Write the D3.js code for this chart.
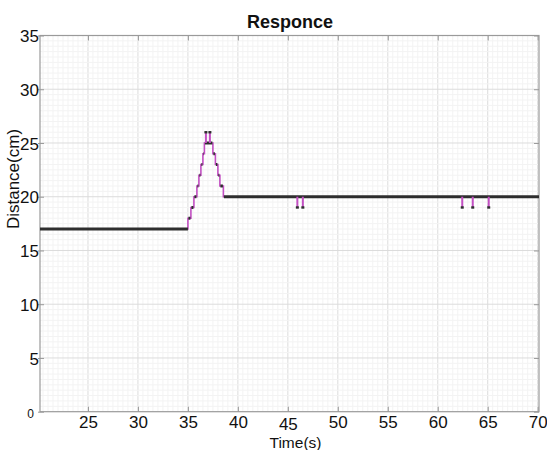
<!DOCTYPE html>
<html>
<head>
<meta charset="utf-8">
<script src="https://cdn.jsdelivr.net/npm/d3@7"></script>
<style>
  html, body { margin: 0; padding: 0; background: #fff; }
  svg { display: block; }
  text { font-family: "Liberation Sans", Arial, sans-serif; fill: #111; }
</style>
</head>
<body>
<svg id="chart" width="547" height="450"></svg>
<script>
// ---- data ----
const title = "Responce";
const xLabel = "Time(s)";
const yLabel = "Distance(cm)";
const xTicks = [25, 30, 35, 40, 45, 50, 55, 60, 65, 70];
const yTicks = [0, 5, 10, 15, 20, 25, 30, 35];
// step changes of the measured distance (time where each level starts)
const stepTimes  = [20.2, 35.0, 35.3, 35.6, 35.9, 36.1, 36.3, 36.5, 36.65, 37.5, 37.75, 38.0, 38.2, 38.55];
const stepValues = [17,   18,   19,   20,   21,   22,   23,   24,   25,    24,   23,    22,   21,   20];
const endTime = 70.13;
// single-sample glitches
const spikeTimes  = [36.8, 37.2, 45.95, 46.5, 62.45, 63.5, 65.1];
const spikeValues = [26,   26,   19,    19,   19,    19,   19];

// ---- layout ----
const svg = d3.select("#chart");
const L = 40, R = 539, T = 35.5, B = 411.7;
const x = d3.scaleLinear().domain([20.2, 70.13]).range([L, R]);
const y = d3.scaleLinear().domain([0, 35]).range([B, T]);

// grid
const grid = svg.append("g");
const minorX = d3.range(20.5, 70.1, 0.5);
const minorY = d3.range(0.5, 35, 0.5);
grid.selectAll(".mx").data(minorX).join("line")
  .attr("x1", d => x(d)).attr("x2", d => x(d)).attr("y1", T).attr("y2", B)
  .attr("stroke", d => (d % 5 === 0) ? "#dcdcdc" : "#f3f3f3").attr("stroke-width", 1);
grid.selectAll(".my").data(minorY).join("line")
  .attr("y1", d => y(d)).attr("y2", d => y(d)).attr("x1", L).attr("x2", R)
  .attr("stroke", d => (d % 5 === 0) ? "#dcdcdc" : "#f3f3f3").attr("stroke-width", 1);

// axes (inward ticks all round)
const axColor = "#9a9a9a";
const gB = svg.append("g").attr("transform", `translate(0,${B})`)
  .call(d3.axisBottom(x).tickValues(xTicks).tickSizeInner(-5).tickSizeOuter(0).tickPadding(0));
const gT = svg.append("g").attr("transform", `translate(0,${T})`)
  .call(d3.axisTop(x).tickValues(xTicks).tickSizeInner(-5).tickSizeOuter(0).tickFormat(""));
const gL = svg.append("g").attr("transform", `translate(${L},0)`)
  .call(d3.axisLeft(y).tickValues(yTicks).tickSizeInner(-4).tickSizeOuter(0).tickPadding(0));
const gR = svg.append("g").attr("transform", `translate(${R},0)`)
  .call(d3.axisRight(y).tickValues(yTicks).tickSizeInner(-5).tickSizeOuter(0).tickFormat(""));
[gB, gT, gL, gR].forEach(g => {
  g.select(".domain").remove();
  g.selectAll("line").attr("stroke", axColor);
});
gL.selectAll(".tick line").attr("x2", 4).attr("x1", -2);

gB.selectAll("text")
  .attr("font-size", 17).attr("font-family", "Liberation Sans, Arial, sans-serif")
  .attr("fill", "#111")
  .attr("dy", null)
  .attr("y", d => d === 45 ? 18 : 16.5);
gL.selectAll("text")
  .attr("font-family", "Liberation Sans, Arial, sans-serif")
  .attr("fill", "#111")
  .attr("font-size", d => d === 0 ? 12 : 17)
  .attr("x", d => d === 0 ? -6 : -1)
  .attr("dy", d => d === 0 ? "0.5em" : "0.36em");

// frame
svg.append("rect").attr("x", L).attr("y", T).attr("width", R - L).attr("height", B - T)
  .attr("fill", "none").attr("stroke", axColor).attr("stroke-width", 1.2);

// series: magenta connecting line
const pts = stepTimes.map((t, i) => [t, stepValues[i]]).concat([[endTime, stepValues[stepValues.length - 1]]]);
const line = d3.line().x(d => x(d[0])).y(d => y(d[1])).curve(d3.curveStepAfter);
svg.append("path").datum(pts).attr("d", line)
  .attr("fill", "none").attr("stroke", "#c24fc2").attr("stroke-width", 1.6);

// black sample markers along each level
const runs = stepTimes.map((t, i) => ({t0: t, t1: i + 1 < stepTimes.length ? stepTimes[i + 1] : endTime, v: stepValues[i]}));
svg.append("g").selectAll("line").data(runs).join("line")
  .attr("x1", d => x(d.t0) + (d.t0 > 21 ? 0.5 : 0))
  .attr("x2", d => x(d.t1) - (d.t1 - d.t0 < 1 ? 0.5 : 0))
  .attr("y1", d => y(d.v)).attr("y2", d => y(d.v))
  .attr("stroke", "#2e2e2e").attr("stroke-width", 3);

// spikes
const levelAt = t => stepValues[d3.bisectRight(stepTimes, t) - 1];
const sp = spikeTimes.map((t, i) => ({t, v: spikeValues[i], b: levelAt(t)}));
const gs = svg.append("g");
gs.selectAll("line").data(sp).join("line")
  .attr("x1", d => x(d.t)).attr("x2", d => x(d.t))
  .attr("y1", d => y(d.b)).attr("y2", d => y(d.v))
  .attr("stroke", "#c24fc2").attr("stroke-width", 2);
gs.selectAll("rect").data(sp).join("rect")
  .attr("x", d => x(d.t) - 1.5).attr("y", d => y(d.v) - 1.2)
  .attr("width", 3).attr("height", 2.4).attr("fill", "#2e2e2e");

// titles
svg.append("text").attr("x", 290).attr("y", 28).attr("text-anchor", "middle")
  .attr("font-size", 18).attr("font-weight", "bold")
  .attr("font-family", "Liberation Sans Narrow, Liberation Sans, Arial, sans-serif")
  .text(title);
svg.append("text").attr("x", 295.5).attr("y", 447.5).attr("text-anchor", "middle")
  .attr("font-size", 15.5).text(xLabel);
svg.append("text").attr("transform", "translate(19,179) rotate(-90)").attr("text-anchor", "middle")
  .attr("font-size", 17).text(yLabel);
</script>
</body>
</html>
